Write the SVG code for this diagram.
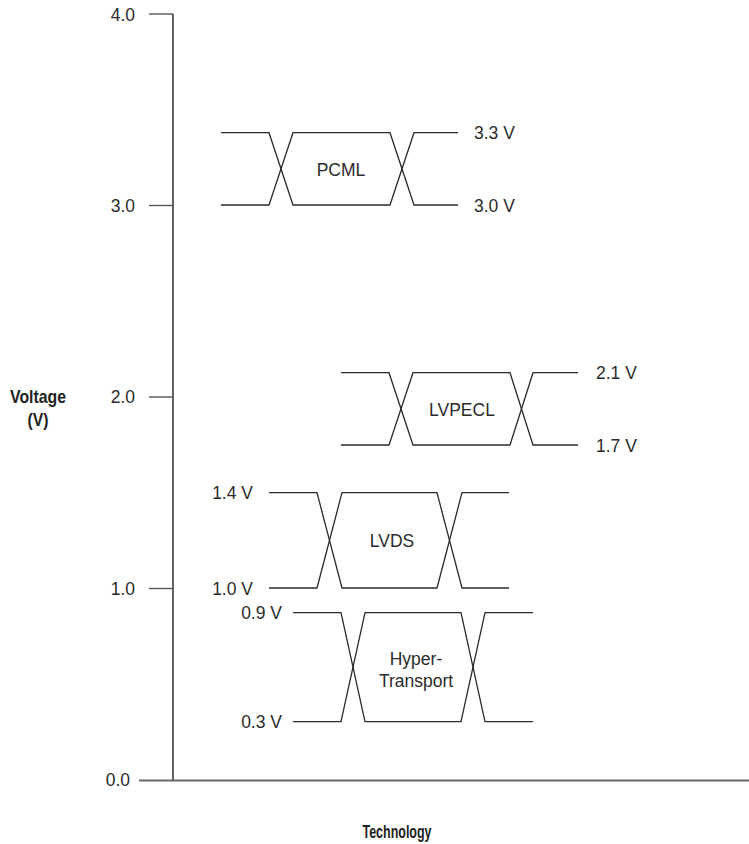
<svg xmlns="http://www.w3.org/2000/svg" width="749" height="844" viewBox="0 0 749 844">
<style>
.bg{fill:#ffffff}
.wave{fill:none;stroke:#2b2b2b;stroke-width:1.3}
.tick{fill:none;stroke:#555555;stroke-width:1.4}
.vax{fill:none;stroke:#222222;stroke-width:1.4}
.hax{fill:none;stroke:#666666;stroke-width:2.2}
.t{font-family:"Liberation Sans",Arial,sans-serif;font-size:17.5px;fill:#2b2b2b}
.tr{font-family:"Liberation Sans",Arial,sans-serif;font-size:17.5px;fill:#2b2b2b;text-anchor:end}
.tc{font-family:"Liberation Sans",Arial,sans-serif;font-size:17.5px;fill:#2b2b2b;text-anchor:middle}
.b{font-family:"Liberation Sans Narrow","Liberation Sans",Arial,sans-serif;font-weight:bold;font-size:19px;fill:#222222;text-anchor:middle}
</style>
<rect class="bg" x="0" y="0" width="749" height="844"/>
<g id="axes">
<line class="vax" x1="173" y1="14" x2="173" y2="781"/>
<line class="hax" x1="139" y1="780.5" x2="749" y2="780.5"/>
<line class="tick" x1="149" y1="14" x2="173" y2="14"/>
<line class="tick" x1="149" y1="205.5" x2="173" y2="205.5"/>
<line class="tick" x1="149" y1="397" x2="173" y2="397"/>
<line class="tick" x1="149" y1="588.5" x2="173" y2="588.5"/>
<text class="tr" x="135" y="21">4.0</text>
<text class="tr" x="135" y="212">3.0</text>
<text class="tr" x="135" y="403">2.0</text>
<text class="tr" x="135" y="595">1.0</text>
<text class="tr" x="130" y="786">0.0</text>
<text class="b" x="38" y="403" textLength="56" lengthAdjust="spacingAndGlyphs">Voltage</text>
<text class="b" x="38" y="426" textLength="21" lengthAdjust="spacingAndGlyphs">(V)</text>
<text class="b" x="397" y="838" textLength="69" lengthAdjust="spacingAndGlyphs">Technology</text>
</g>
<g id="pcml">
<path class="wave" d="M221,132.7 H269 L293,205 H390 L414,132.7 H458"/>
<path class="wave" d="M221,205 H269 L293,132.7 H390 L414,205 H458"/>
<text class="tc" x="341" y="176">PCML</text>
<text class="t" x="474" y="139">3.3 V</text>
<text class="t" x="474" y="211.5">3.0 V</text>
</g>
<g id="lvpecl">
<path class="wave" d="M341,372.7 H389 L413,445 H510 L533,372.7 H578"/>
<path class="wave" d="M341,445 H389 L413,372.7 H510 L533,445 H578"/>
<text class="tc" x="462" y="416">LVPECL</text>
<text class="t" x="596" y="379">2.1 V</text>
<text class="t" x="596" y="451.5">1.7 V</text>
</g>
<g id="lvds">
<path class="wave" d="M269,492.7 H317 L342,588 H437 L462,492.7 H509"/>
<path class="wave" d="M269,588 H317 L342,492.7 H437 L462,588 H509"/>
<text class="tc" x="392" y="547">LVDS</text>
<text class="tr" x="253" y="499">1.4 V</text>
<text class="tr" x="253" y="594.5">1.0 V</text>
</g>
<g id="hypertransport">
<path class="wave" d="M293,612.7 H341 L365,721.7 H461 L485,612.7 H533"/>
<path class="wave" d="M293,721.7 H341 L365,612.7 H461 L485,721.7 H533"/>
<text class="tc" x="416" y="665">Hyper-</text>
<text class="tc" x="416" y="687">Transport</text>
<text class="tr" x="282" y="619">0.9 V</text>
<text class="tr" x="282" y="728">0.3 V</text>
</g>
</svg>
